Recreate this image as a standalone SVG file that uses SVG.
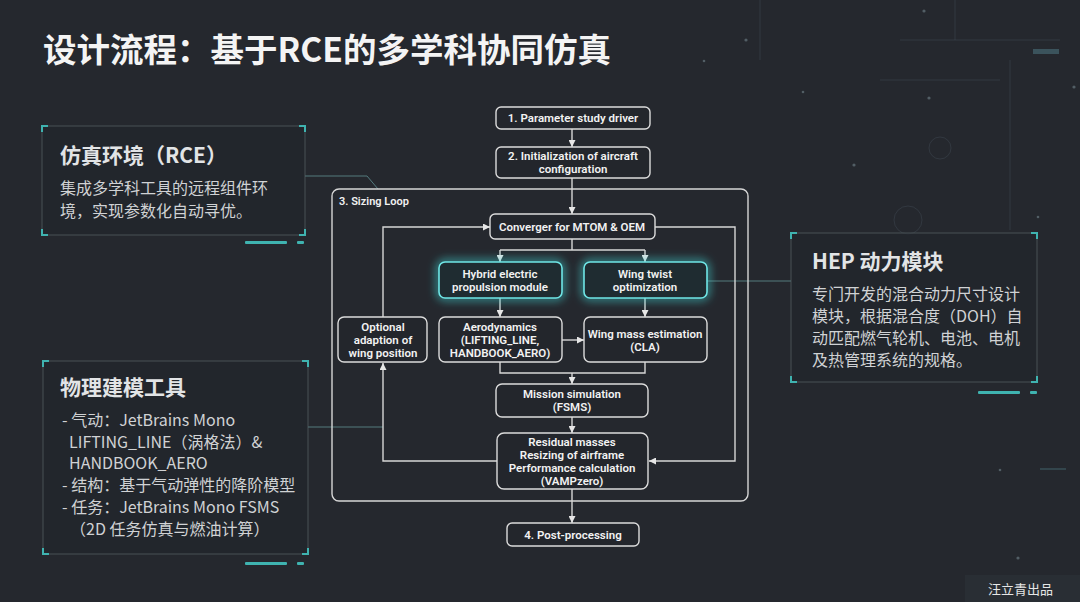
<svg xmlns="http://www.w3.org/2000/svg" width="1080" height="602" viewBox="0 0 1080 602">
<defs>
<style>
.bg{fill:#25282e}
.title{font-family:"Noto Sans CJK SC","Noto Sans",sans-serif;font-weight:700;font-size:33.5px;fill:#f4f4f4}
.ph{font-family:"Noto Sans CJK SC","Noto Sans",sans-serif;font-weight:700;font-size:21px;fill:#e2e4e6}
.pb{font-family:"Noto Sans CJK SC","Noto Sans",sans-serif;font-weight:400;font-size:16px;fill:#d0d2d4}
.panel{fill:#22252b;fill-opacity:0.6;stroke:#5a6468;stroke-width:1;stroke-opacity:0.7}
.corner{fill:none;stroke:#3fb3b0;stroke-width:2}
.tbar{fill:#3fb3b0}
.box{fill:#23262c;stroke:#dcdcdc;stroke-width:1.4}
.glow{fill:#1f2c31;stroke:#6fe6e6;stroke-width:1.6}
.loop{fill:none;stroke:#d6d6d6;stroke-width:1.4}
.ft{font-family:Roboto,"Liberation Sans",sans-serif;font-weight:600;font-size:11.5px;fill:#f2f2f2;text-anchor:middle}
.lbl{font-family:Roboto,"Liberation Sans",sans-serif;font-weight:600;font-size:11px;fill:#f2f2f2}
.cn{fill:none;stroke:#d6d6d6;stroke-width:1.4}
.pl{fill:none;stroke:#5f8f92;stroke-width:1;stroke-opacity:0.8}
.dot{fill:#8aa0a8;fill-opacity:0.45}
.deco{fill:none;stroke:#4a5560;stroke-width:1;stroke-opacity:0.35}
.wm{font-family:"Noto Sans CJK SC","Noto Sans",sans-serif;font-size:13px;fill:#e6e6e6}
</style>
<marker id="ar" viewBox="0 0 8 8" refX="8" refY="4" markerWidth="7" markerHeight="7" markerUnits="userSpaceOnUse" orient="auto">
<path d="M0,0 L8,4 L0,8 z" fill="#e6e6e6"/>
</marker>
<filter id="gl" x="-30%" y="-60%" width="160%" height="220%">
<feGaussianBlur in="SourceGraphic" stdDeviation="4"/>
</filter>
</defs>

<rect class="bg" x="0" y="0" width="1080" height="602"/>

<g id="decor">
<path class="deco" d="M760,0 V60 M955,0 V40 M1010,60 V230 M880,80 H1000 M900,40 H1060"/>
<circle class="deco" cx="940" cy="148" r="11"/>
<circle class="deco" cx="908" cy="220" r="14"/>
<circle class="dot" cx="746" cy="40" r="1.6"/>
<circle class="dot" cx="924" cy="11" r="1.6"/>
<circle class="dot" cx="929" cy="98" r="1.6"/>
<circle class="dot" cx="854" cy="165" r="1.6"/>
<circle class="dot" cx="1074" cy="87" r="1.6"/>
<circle class="dot" cx="704" cy="61" r="1.3"/>
<circle class="dot" cx="803" cy="92" r="1.3"/>
<circle class="dot" cx="1038" cy="217" r="1.3"/>
<circle class="dot" cx="1000" cy="470" r="1.3"/>
<circle class="dot" cx="1018" cy="558" r="1.6"/>
<rect x="1033" y="49" width="26" height="5" fill="#6fb8c8" fill-opacity="0.3"/>
<rect x="1040" y="468" width="26" height="2" fill="#6fb8c8" fill-opacity="0.2"/>
<rect x="965" y="575" width="115" height="27" fill="#2d3238" fill-opacity="0.6"/>
</g>

<text class="title" x="43" y="62">设计流程：基于RCE的多学科协同仿真</text>

<g id="connectors">
<path class="pl" d="M305,176 H367 L378,189"/>
<path class="pl" d="M308,427 H383"/>
<path class="pl" d="M707,281 H791"/>
<path class="cn" d="M572,129 V147" marker-end="url(#ar)"/>
<path class="cn" d="M572,178 V214" marker-end="url(#ar)"/>
<path class="cn" d="M572,239 V250 M500,250 H645"/>
<path class="cn" d="M500,250 V262" marker-end="url(#ar)"/>
<path class="cn" d="M645,250 V262" marker-end="url(#ar)"/>
<path class="cn" d="M500,298 V317" marker-end="url(#ar)"/>
<path class="cn" d="M645,298 V317" marker-end="url(#ar)"/>
<path class="cn" d="M562,340 H584" marker-end="url(#ar)"/>
<path class="cn" d="M500,362 V373 H645 V362"/>
<path class="cn" d="M572,373 V384" marker-end="url(#ar)"/>
<path class="cn" d="M572,417 V433" marker-end="url(#ar)"/>
<path class="cn" d="M572,489 V523" marker-end="url(#ar)"/>
<path class="cn" d="M497,461 H383 V363" marker-end="url(#ar)"/>
<path class="cn" d="M383,317 V227 H490" marker-end="url(#ar)"/>
<path class="cn" d="M655,227 H735 V461 H649" marker-end="url(#ar)"/>
</g>

<g id="panel-rce">
<rect class="panel" x="42" y="126" width="263" height="109"/>
<path class="corner" d="M42,132 V126 H48 M299,126 H305 V132 M42,229 V235 H48 M299,235 H305 V229"/>
<rect class="tbar" x="245" y="241" width="42" height="3" rx="1"/>
<rect class="tbar" x="297" y="241" width="7" height="3" rx="1"/>
<text class="ph" x="60" y="163">仿真环境（RCE）</text>
<text class="pb" x="60" y="194">集成多学科工具的远程组件环</text>
<text class="pb" x="60" y="217">境，实现参数化自动寻优。</text>
</g>

<g id="panel-tools">
<rect class="panel" x="43" y="361" width="265" height="193"/>
<path class="corner" d="M43,367 V361 H49 M302,361 H308 V367 M43,548 V554 H49 M302,554 H308 V548"/>
<rect class="tbar" x="245" y="562" width="42" height="3" rx="1"/>
<rect class="tbar" x="297" y="562" width="7" height="3" rx="1"/>
<text class="ph" x="60" y="395">物理建模工具</text>
<text class="pb" x="62" y="426">- 气动：JetBrains Mono</text>
<text class="pb" x="69" y="448">LIFTING_LINE（涡格法）&amp;</text>
<text class="pb" x="69" y="469">HANDBOOK_AERO</text>
<text class="pb" x="62" y="491">- 结构：基于气动弹性的降阶模型</text>
<text class="pb" x="62" y="513">- 任务：JetBrains Mono FSMS</text>
<text class="pb" x="70" y="535">（2D 任务仿真与燃油计算）</text>
</g>

<g id="panel-hep">
<rect class="panel" x="791" y="233" width="246" height="149"/>
<path class="corner" d="M791,239 V233 H797 M1031,233 H1037 V239 M791,376 V382 H797 M1031,382 H1037 V376"/>
<rect class="tbar" x="978" y="391" width="42" height="3" rx="1"/>
<rect class="tbar" x="1030" y="391" width="7" height="3" rx="1"/>
<text class="ph" x="812" y="269">HEP 动力模块</text>
<text class="pb" x="812" y="300">专门开发的混合动力尺寸设计</text>
<text class="pb" x="812" y="322">模块，根据混合度（DOH）自</text>
<text class="pb" x="812" y="344">动匹配燃气轮机、电池、电机</text>
<text class="pb" x="812" y="366">及热管理系统的规格。</text>
</g>

<g id="sizing-loop">
<rect class="loop" x="332" y="189" width="416" height="312" rx="7"/>
<text class="lbl" x="339" y="205">3. Sizing Loop</text>
</g>

<g id="n1">
<rect class="box" x="496" y="107" width="154" height="22" rx="5"/>
<text class="ft" x="573" y="122">1. Parameter study driver</text>
</g>
<g id="n2">
<rect class="box" x="496" y="147" width="154" height="31" rx="5"/>
<text class="ft" x="573" y="160">2. Initialization of aircraft</text>
<text class="ft" x="573" y="173">configuration</text>
</g>
<g id="n-converger">
<rect class="box" x="490" y="214" width="165" height="25" rx="5"/>
<text class="ft" x="572" y="231">Converger for MTOM &amp; OEM</text>
</g>
<g id="n-hep">
<rect x="439" y="262" width="123" height="36" rx="6" fill="none" stroke="#3fd0d0" stroke-width="6" stroke-opacity="0.65" filter="url(#gl)"/>
<rect class="glow" x="439" y="262" width="123" height="36" rx="6"/>
<text class="ft" x="500" y="278">Hybrid electric</text>
<text class="ft" x="500" y="291">propulsion module</text>
</g>
<g id="n-twist">
<rect x="584" y="262" width="123" height="36" rx="6" fill="none" stroke="#3fd0d0" stroke-width="6" stroke-opacity="0.65" filter="url(#gl)"/>
<rect class="glow" x="584" y="262" width="123" height="36" rx="6"/>
<text class="ft" x="645" y="278">Wing twist</text>
<text class="ft" x="645" y="291">optimization</text>
</g>
<g id="n-optional">
<rect class="box" x="338" y="317" width="89" height="45" rx="6"/>
<text class="ft" x="383" y="331">Optional</text>
<text class="ft" x="383" y="344">adaption of</text>
<text class="ft" x="383" y="357">wing position</text>
</g>
<g id="n-aero">
<rect class="box" x="439" y="317" width="123" height="45" rx="6"/>
<text class="ft" x="500" y="331">Aerodynamics</text>
<text class="ft" x="500" y="344">(LIFTING_LINE,</text>
<text class="ft" x="500" y="357">HANDBOOK_AERO)</text>
</g>
<g id="n-wingmass">
<rect class="box" x="584" y="317" width="123" height="45" rx="6"/>
<text class="ft" x="645" y="338">Wing mass estimation</text>
<text class="ft" x="645" y="351">(CLA)</text>
</g>
<g id="n-mission">
<rect class="box" x="496" y="384" width="152" height="33" rx="6"/>
<text class="ft" x="572" y="398">Mission simulation</text>
<text class="ft" x="572" y="411">(FSMS)</text>
</g>
<g id="n-residual">
<rect class="box" x="497" y="433" width="151" height="56" rx="7"/>
<text class="ft" x="572" y="446">Residual masses</text>
<text class="ft" x="572" y="459">Resizing of airframe</text>
<text class="ft" x="572" y="472">Performance calculation</text>
<text class="ft" x="572" y="485">(VAMPzero)</text>
</g>
<g id="n4">
<rect class="box" x="507" y="523" width="132" height="23" rx="5"/>
<text class="ft" x="573" y="539">4. Post-processing</text>
</g>

<text class="wm" x="988" y="594">汪立青出品</text>
</svg>
